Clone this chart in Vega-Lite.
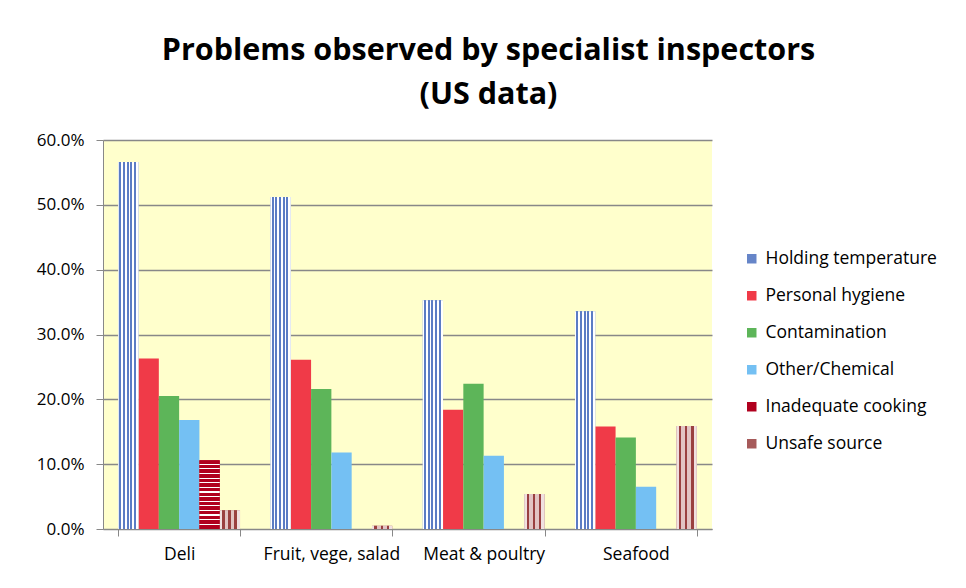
{
  "$schema": "https://vega.github.io/schema/vega-lite/v6.json",
  "width": 609,
  "height": 389,
  "autosize": "none",
  "padding": {"left": 103, "top": 140, "right": 254, "bottom": 59},
  "background": "white",
  "title": {
    "text": ["Problems observed by specialist inspectors", "(US data)"],
    "font": "Open Sans",
    "fontSize": 30.5,
    "fontWeight": "bold",
    "color": "black",
    "lineHeight": 44,
    "anchor": "middle",
    "dx": 81,
    "offset": 21
  },
  "data": {
    "values": [
      {"cat": "Deli", "type": "Holding temperature", "v": 0.566},
      {"cat": "Deli", "type": "Personal hygiene", "v": 0.263},
      {"cat": "Deli", "type": "Contamination", "v": 0.205},
      {"cat": "Deli", "type": "Other/Chemical", "v": 0.168},
      {"cat": "Deli", "type": "Inadequate cooking", "v": 0.106},
      {"cat": "Deli", "type": "Unsafe source", "v": 0.029},
      {"cat": "Fruit, vege, salad", "type": "Holding temperature", "v": 0.512},
      {"cat": "Fruit, vege, salad", "type": "Personal hygiene", "v": 0.261},
      {"cat": "Fruit, vege, salad", "type": "Contamination", "v": 0.216},
      {"cat": "Fruit, vege, salad", "type": "Other/Chemical", "v": 0.118},
      {"cat": "Fruit, vege, salad", "type": "Inadequate cooking", "v": 0.0},
      {"cat": "Fruit, vege, salad", "type": "Unsafe source", "v": 0.005},
      {"cat": "Meat & poultry", "type": "Holding temperature", "v": 0.353},
      {"cat": "Meat & poultry", "type": "Personal hygiene", "v": 0.184},
      {"cat": "Meat & poultry", "type": "Contamination", "v": 0.224},
      {"cat": "Meat & poultry", "type": "Other/Chemical", "v": 0.113},
      {"cat": "Meat & poultry", "type": "Inadequate cooking", "v": 0.0},
      {"cat": "Meat & poultry", "type": "Unsafe source", "v": 0.054},
      {"cat": "Seafood", "type": "Holding temperature", "v": 0.336},
      {"cat": "Seafood", "type": "Personal hygiene", "v": 0.158},
      {"cat": "Seafood", "type": "Contamination", "v": 0.141},
      {"cat": "Seafood", "type": "Other/Chemical", "v": 0.065},
      {"cat": "Seafood", "type": "Inadequate cooking", "v": 0.0},
      {"cat": "Seafood", "type": "Unsafe source", "v": 0.159}
    ]
  },
  "encoding": {
    "x": {
      "field": "cat",
      "type": "nominal",
      "sort": null,
      "scale": {"paddingInner": 0.2, "paddingOuter": 0.1},
      "axis": {
        "title": null,
        "labelAngle": 0,
        "labelFont": "Open Sans",
        "labelFontSize": 17.5,
        "labelColor": "black",
        "labelPadding": 9,
        "tickBand": "extent",
        "tickColor": "#888888",
        "tickSize": 7,
        "domainColor": "#888888",
        "grid": false
      }
    },
    "xOffset": {
      "field": "type",
      "type": "nominal",
      "scale": {"domain": ["Holding temperature", "Personal hygiene", "Contamination", "Other/Chemical", "Inadequate cooking", "Unsafe source"]}
    },
    "y": {
      "field": "v",
      "type": "quantitative",
      "scale": {"domain": [0, 0.6], "nice": false},
      "axis": {
        "title": null,
        "format": ".1%",
        "values": [0, 0.1, 0.2, 0.3, 0.4, 0.5, 0.6],
        "labelFont": "Open Sans",
        "labelFontSize": 17,
        "labelColor": "black",
        "labelPadding": 12,
        "tickColor": "#888888",
        "tickSize": 7,
        "domainColor": "#888888",
        "grid": true,
        "gridColor": "#888888",
        "gridWidth": 1.5
      }
    }
  },
  "layer": [
    {
      "mark": {"type": "bar"},
      "encoding": {
        "color": {
          "field": "type",
          "type": "nominal",
          "scale": {
            "domain": ["Holding temperature", "Personal hygiene", "Contamination", "Other/Chemical", "Inadequate cooking", "Unsafe source"],
            "range": ["#6685C8", "#F03A48", "#5DB559", "#74C0F3", "#B0001E", "#A65A5A"]
          },
          "legend": {
            "title": null,
            "orient": "none",
            "legendX": 640,
            "legendY": 110,
            "labelFont": "Open Sans",
            "labelFontSize": 17.5,
            "labelColor": "black",
            "labelLimit": 400,
            "symbolType": "square",
            "symbolSize": 90,
            "symbolStrokeWidth": 0,
            "rowPadding": 18,
            "labelOffset": 5
          }
        }
      }
    },
    {
      "transform": [{"filter": "datum.type === 'Holding temperature'"}],
      "mark": {
        "type": "bar",
        "fill": {
          "gradient": "linear", "x1": 0, "y1": 0, "x2": 1, "y2": 0,
          "stops": [
            {"offset": 0, "color": "#ffffff"}, {"offset": 0.06, "color": "#ffffff"},
            {"offset": 0.06, "color": "#5B7CC4"}, {"offset": 0.16, "color": "#5B7CC4"},
            {"offset": 0.16, "color": "#ffffff"}, {"offset": 0.24, "color": "#ffffff"},
            {"offset": 0.24, "color": "#5B7CC4"}, {"offset": 0.34, "color": "#5B7CC4"},
            {"offset": 0.34, "color": "#ffffff"}, {"offset": 0.42, "color": "#ffffff"},
            {"offset": 0.42, "color": "#5B7CC4"}, {"offset": 0.52, "color": "#5B7CC4"},
            {"offset": 0.52, "color": "#ffffff"}, {"offset": 0.60, "color": "#ffffff"},
            {"offset": 0.60, "color": "#5B7CC4"}, {"offset": 0.70, "color": "#5B7CC4"},
            {"offset": 0.70, "color": "#ffffff"}, {"offset": 0.78, "color": "#ffffff"},
            {"offset": 0.78, "color": "#5B7CC4"}, {"offset": 0.88, "color": "#5B7CC4"},
            {"offset": 0.88, "color": "#ffffff"}, {"offset": 1, "color": "#ffffff"}
          ]
        }
      }
    },
    {
      "transform": [{"filter": "datum.type === 'Unsafe source' && datum.v > 0"}],
      "mark": {
        "type": "bar",
        "fill": {
          "gradient": "linear", "x1": 0, "y1": 0, "x2": 1, "y2": 0,
          "stops": [
            {"offset": 0, "color": "#F0E0E0"}, {"offset": 0.12, "color": "#F0E0E0"},
            {"offset": 0.12, "color": "#9A4040"}, {"offset": 0.24, "color": "#9A4040"},
            {"offset": 0.24, "color": "#E2C4C4"}, {"offset": 0.42, "color": "#E2C4C4"},
            {"offset": 0.42, "color": "#9A4040"}, {"offset": 0.54, "color": "#9A4040"},
            {"offset": 0.54, "color": "#E2C4C4"}, {"offset": 0.72, "color": "#E2C4C4"},
            {"offset": 0.72, "color": "#9A4040"}, {"offset": 0.84, "color": "#9A4040"},
            {"offset": 0.84, "color": "#F0E0E0"}, {"offset": 1, "color": "#F0E0E0"}
          ]
        }
      }
    },
    {
      "transform": [{"filter": "datum.type === 'Inadequate cooking' && datum.v > 0"}],
      "mark": {
        "type": "bar",
        "fill": {
          "gradient": "linear", "x1": 0, "y1": 0, "x2": 0, "y2": 1,
          "stops": [
            {"offset": 0, "color": "#B0001E"}, {"offset": 0.05, "color": "#B0001E"},
            {"offset": 0.05, "color": "#ffffff"}, {"offset": 0.067, "color": "#ffffff"},
            {"offset": 0.067, "color": "#B0001E"}, {"offset": 0.117, "color": "#B0001E"},
            {"offset": 0.117, "color": "#ffffff"}, {"offset": 0.134, "color": "#ffffff"},
            {"offset": 0.134, "color": "#B0001E"}, {"offset": 0.184, "color": "#B0001E"},
            {"offset": 0.184, "color": "#ffffff"}, {"offset": 0.201, "color": "#ffffff"},
            {"offset": 0.201, "color": "#B0001E"}, {"offset": 0.251, "color": "#B0001E"},
            {"offset": 0.251, "color": "#ffffff"}, {"offset": 0.268, "color": "#ffffff"},
            {"offset": 0.268, "color": "#B0001E"}, {"offset": 0.318, "color": "#B0001E"},
            {"offset": 0.318, "color": "#ffffff"}, {"offset": 0.335, "color": "#ffffff"},
            {"offset": 0.335, "color": "#B0001E"}, {"offset": 0.385, "color": "#B0001E"},
            {"offset": 0.385, "color": "#ffffff"}, {"offset": 0.402, "color": "#ffffff"},
            {"offset": 0.402, "color": "#B0001E"}, {"offset": 0.452, "color": "#B0001E"},
            {"offset": 0.452, "color": "#ffffff"}, {"offset": 0.469, "color": "#ffffff"},
            {"offset": 0.469, "color": "#B0001E"}, {"offset": 0.519, "color": "#B0001E"},
            {"offset": 0.519, "color": "#ffffff"}, {"offset": 0.536, "color": "#ffffff"},
            {"offset": 0.536, "color": "#B0001E"}, {"offset": 0.586, "color": "#B0001E"},
            {"offset": 0.586, "color": "#ffffff"}, {"offset": 0.603, "color": "#ffffff"},
            {"offset": 0.603, "color": "#B0001E"}, {"offset": 0.653, "color": "#B0001E"},
            {"offset": 0.653, "color": "#ffffff"}, {"offset": 0.670, "color": "#ffffff"},
            {"offset": 0.670, "color": "#B0001E"}, {"offset": 0.720, "color": "#B0001E"},
            {"offset": 0.720, "color": "#ffffff"}, {"offset": 0.737, "color": "#ffffff"},
            {"offset": 0.737, "color": "#B0001E"}, {"offset": 0.787, "color": "#B0001E"},
            {"offset": 0.787, "color": "#ffffff"}, {"offset": 0.804, "color": "#ffffff"},
            {"offset": 0.804, "color": "#B0001E"}, {"offset": 0.854, "color": "#B0001E"},
            {"offset": 0.854, "color": "#ffffff"}, {"offset": 0.871, "color": "#ffffff"},
            {"offset": 0.871, "color": "#B0001E"}, {"offset": 0.921, "color": "#B0001E"},
            {"offset": 0.921, "color": "#ffffff"}, {"offset": 0.938, "color": "#ffffff"},
            {"offset": 0.938, "color": "#B0001E"}, {"offset": 1, "color": "#B0001E"}
          ]
        }
      }
    }
  ],
  "config": {
    "view": {"fill": "#FFFFCC", "stroke": null}
  }
}
